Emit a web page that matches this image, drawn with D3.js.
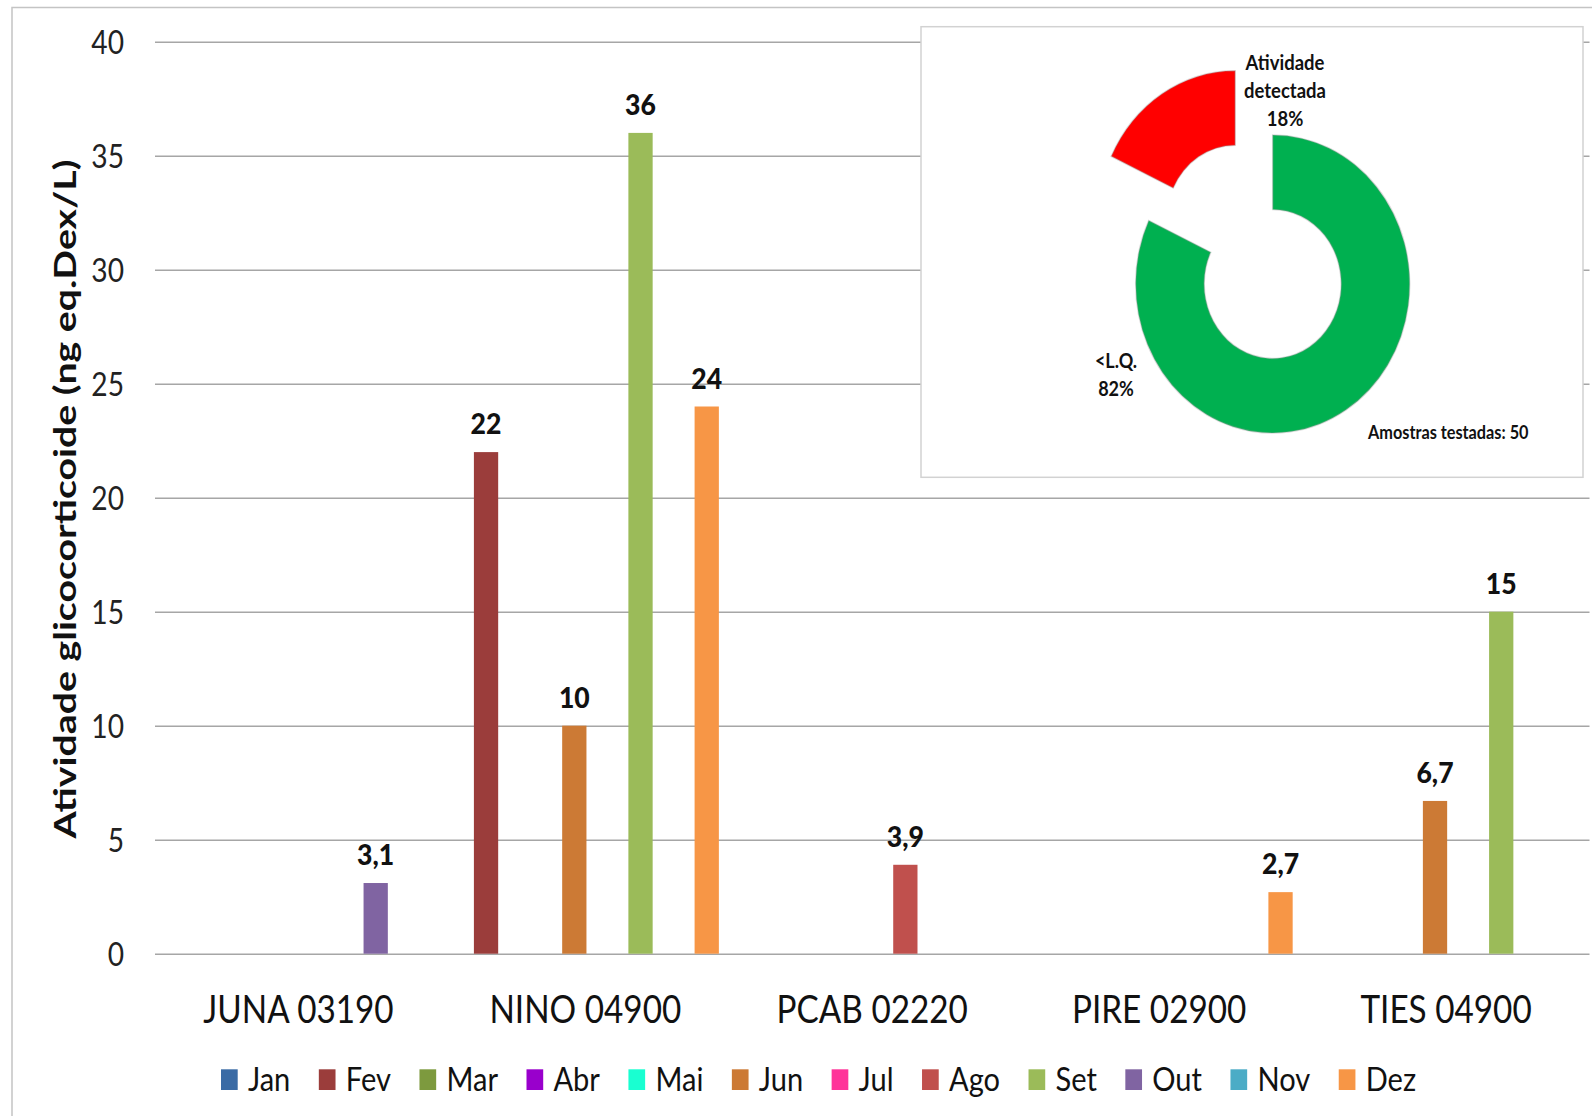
<!DOCTYPE html>
<html>
<head>
<meta charset="utf-8">
<script src="https://cdn.jsdelivr.net/npm/d3@7"></script>
<style>
  body { margin: 0; background: #fff; }
  svg { display: block; font-family: Lato, "Open Sans", sans-serif; }
</style>
</head>
<body>
<svg id="chart" width="1592" height="1116"></svg>
<script>
// Sampling stations (x categories) and months (series)
const stations = ["JUNA 03190", "NINO 04900", "PCAB 02220", "PIRE 02900", "TIES 04900"];
const months = ["Jan", "Fev", "Mar", "Abr", "Mai", "Jun", "Jul", "Ago", "Set", "Out", "Nov", "Dez"];
const monthColors = ["#3A6BA5", "#9B3D3B", "#7D9A3E", "#9900CC", "#19FFD1", "#CC7A35",
                     "#FF3399", "#C0504D", "#9BBB59", "#8064A2", "#4BACC6", "#F79646"];

// Samples with detected glucocorticoid activity (ng eq. Dex/L)
const detStation = ["JUNA 03190", "NINO 04900", "NINO 04900", "NINO 04900", "NINO 04900",
                    "PCAB 02220", "PIRE 02900", "TIES 04900", "TIES 04900"];
const detMonth = ["Out", "Fev", "Jun", "Set", "Dez", "Ago", "Dez", "Jun", "Set"];
const detValue = [3.1, 22, 10, 36, 24, 3.9, 2.7, 6.7, 15];

const yTicks = [0, 5, 10, 15, 20, 25, 30, 35, 40];

// Share of tested samples
const pieLabels = ["<L.Q.", "Atividade detectada"];
const pieValues = [82, 18];
const pieColors = ["#00B050", "#FF0000"];
const samplesTested = 50;

const svg = d3.select("#chart");
const SX = 0.88; // horizontal squeeze for the narrow face

const plot = { left: 155, right: 1589.5, top: 41.7, bottom: 953.7 };

const x0 = d3.scaleBand().domain(stations).range([plot.left, plot.right]).padding(0);
const x1 = d3.scaleBand().domain(months).range([0, x0.bandwidth()]).paddingInner(0).paddingOuter(0.5);
const y = d3.scaleLinear().domain([0, 40]).range([plot.bottom, plot.top]);

// outer frame
svg.append("rect").attr("x", 12).attr("y", 7.5).attr("width", 1600).attr("height", 1130)
  .attr("fill", "none").attr("stroke", "#c4c4c4").attr("stroke-width", 1.5);

// y axis with gridlines
const yAxis = svg.append("g").attr("transform", `translate(${plot.left},0)`)
  .call(d3.axisLeft(y).tickValues(yTicks).tickSize(-(plot.right - plot.left)).tickPadding(31));
yAxis.select(".domain").remove();
yAxis.selectAll(".tick line").attr("stroke", "#a6a6a6").attr("stroke-width", 1.6);
yAxis.selectAll(".tick text")
  .attr("x", 0).attr("dy", null).attr("y", 11.5)
  .attr("transform", `translate(-31,0) scale(${SX},1)`)
  .attr("font-family", "Lato, sans-serif").attr("font-size", 32).attr("fill", "#222");

// x axis labels
const xAxis = svg.append("g").attr("transform", `translate(0,${plot.bottom})`)
  .call(d3.axisBottom(x0).tickSize(0));
xAxis.select(".domain").remove();
xAxis.selectAll(".tick text")
  .attr("y", 69.5).attr("dy", null)
  .attr("transform", `scale(${SX * 0.97},1)`)
  .attr("font-family", "Lato, sans-serif").attr("font-size", 39).attr("fill", "#111");

// bars
const detections = detValue.map((v, i) => ({ station: detStation[i], month: detMonth[i], value: v }));
const barW = x1.bandwidth() * 1.1;
const cx = d => x0(d.station) + x1(d.month) + x1.bandwidth() / 2;

svg.append("g").selectAll("rect").data(detections).join("rect")
  .attr("x", d => cx(d) - barW / 2)
  .attr("y", d => y(d.value))
  .attr("width", barW)
  .attr("height", d => y(0) - y(d.value))
  .attr("fill", d => monthColors[months.indexOf(d.month)]);

// value labels
const fmt = v => String(v).replace(".", ",");
svg.append("g").selectAll("text").data(detections).join("text")
  .attr("transform", d => `translate(${cx(d)},${y(d.value) - 18}) scale(0.95,1)`)
  .attr("text-anchor", "middle")
  .attr("font-weight", "900").attr("font-size", 28).attr("fill", "#111")
  .text(d => fmt(d.value));

// y axis title
svg.append("text")
  .attr("transform", "translate(76,499) rotate(-90)")
  .attr("text-anchor", "middle")
  .attr("font-weight", "bold").attr("font-size", 31).attr("fill", "#111")
  .attr("textLength", 679).attr("lengthAdjust", "spacingAndGlyphs")
  .text("Atividade glicocorticoide (ng eq.Dex/L)");

// legend
const legend = svg.append("g");
let lx = 221;
months.forEach((m, i) => {
  legend.append("rect").attr("x", lx).attr("y", 1069.3).attr("width", 16.7).attr("height", 20.7)
    .attr("fill", monthColors[i]);
  const t = legend.append("text")
    .attr("transform", `translate(${lx + 27},1091) scale(${SX},1)`)
    .attr("font-size", 33).attr("fill", "#111").text(m);
  lx += 27 + t.node().getComputedTextLength() * SX + 28.5;
});

// inset: share of samples with detected activity
const inset = svg.append("g");
inset.append("rect").attr("x", 921).attr("y", 26.7).attr("width", 662).attr("height", 450.6)
  .attr("fill", "#fff").attr("stroke", "#d2d2d2").attr("stroke-width", 1.5);

const pieData = d3.pie().sort(null).value(d => d)(pieValues);
const arc = d3.arc().innerRadius(68.5).outerRadius(137);
const donut = inset.append("g").attr("transform", "translate(1272.7,284) scale(1,1.0876)");
const explode = [0, 70];
donut.selectAll("path").data(pieData).join("path")
  .attr("d", arc)
  .attr("transform", (d, i) => {
    const mid = (d.startAngle + d.endAngle) / 2;
    return `translate(${explode[i] * Math.sin(mid)},${-explode[i] * Math.cos(mid)})`;
  })
  .attr("fill", (d, i) => pieColors[i])
  .attr("stroke", "rgba(150,150,150,0.35)").attr("stroke-width", 1.5);

const insetText = (lines, x, y0, size) => {
  const t = inset.append("text")
    .attr("transform", `translate(${x},${y0}) scale(${SX},1)`)
    .attr("text-anchor", "middle").attr("font-weight", "bold")
    .attr("font-size", size).attr("fill", "#111");
  lines.forEach((s, i) => t.append("tspan").attr("x", 0).attr("y", i * 28).text(s));
};
insetText(["Atividade", "detectada", pieValues[1] + "%"], 1285, 70, 21);
insetText([pieLabels[0], pieValues[0] + "%"], 1116, 368, 20.5);
inset.append("text")
  .attr("transform", `translate(1368,439) scale(${SX},1)`)
  .attr("font-weight", "bold").attr("font-size", 18.5).attr("fill", "#111")
  .text("Amostras testadas: " + samplesTested);
</script>
</body>
</html>
